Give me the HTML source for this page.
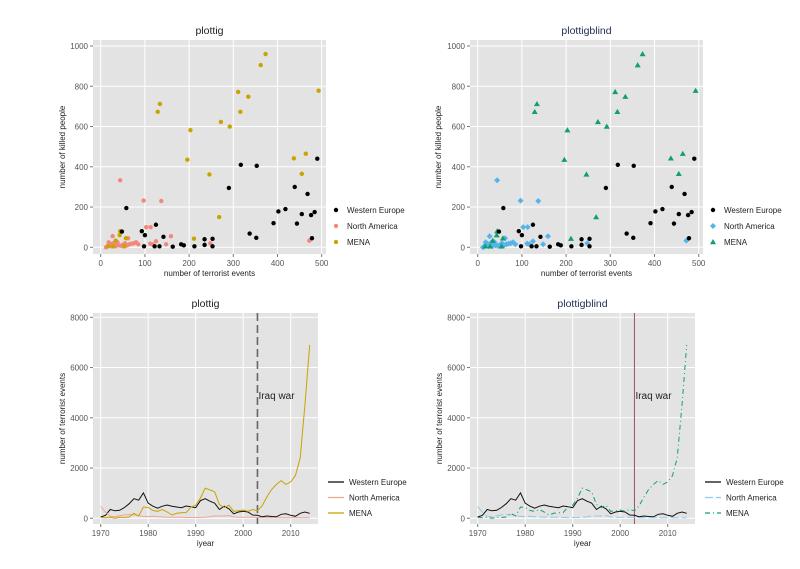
<!DOCTYPE html>
<html><head><meta charset="utf-8"><style>
body{margin:0;background:#fff;width:800px;height:564px;overflow:hidden;font-family:"Liberation Sans",sans-serif}
svg text{font-family:"Liberation Sans",sans-serif}
</style></head><body>
<svg id="chart" width="800" height="564"></svg>
<script>
const weX=[58,48,93,100,98,125,122,133,142,163,182,188,212,235,235,253,253,290,317,353,337,352,391,402,418,439,444,455,468,476,478,484,490];
const weY=[195,78,80,60,5,112,5,5,52,3,15,10,5,40,12,42,5,295,410,405,68,47,120,178,190,300,118,165,265,160,45,175,440];
const naX=[44,97,137,103,113,159,125,112,117,148,248,472,27,18,22,30,35,40,15,12,25,33,45,52,55,62,65,70,75,80,85,60,38,50];
const naY=[333,232,230,100,100,55,30,18,15,15,20,33,55,25,18,22,15,10,5,0,5,5,8,5,20,45,15,18,20,25,15,10,25,12];
const meX=[373,362,493,311,334,134,129,316,272,292,203,196,437,464,455,246,268,211,44,43,57,34,17,28,54];
const meY=[960,905,778,772,748,712,673,673,623,600,582,435,442,465,365,362,150,43,80,60,45,33,5,5,5];
const years=[];for(let y=1970;y<=2014;y++)years.push(y);
const weLine=[50,120,350,300,320,430,580,780,720,1010,600,480,400,480,530,480,450,420,490,460,420,700,780,680,600,350,480,380,180,250,280,250,130,120,60,90,70,60,160,180,120,80,200,250,200];
const naLine=[470,250,80,60,100,130,150,140,110,70,70,80,60,50,40,40,40,40,30,30,30,30,40,60,90,90,90,110,50,40,40,40,40,30,20,20,20,20,20,20,20,20,20,20,20];
const meLine=[30,20,40,0,40,30,50,200,90,450,430,310,280,350,250,130,200,220,230,450,520,800,1200,1130,1050,550,420,520,280,300,330,280,350,300,500,850,1150,1350,1500,1350,1450,1700,2400,4500,6900];
const scatTicksX=[0,100,200,300,400,500];const scatTicksY=[0,200,400,600,800,1000];
const lineTicksX=[1970,1980,1990,2000,2010];const lineTicksY=[0,2000,4000,6000,8000];
const legendLabels=["Western Europe","North America","MENA"];
const iraqYear=2003;

const NS="http://www.w3.org/2000/svg";const svg=document.getElementById('chart');
function mk(t,a,p){const e=document.createElementNS(NS,t);for(const k in a)e.setAttribute(k,a[k]);(p||svg).appendChild(e);return e;}
function txt(s,a,p){const e=mk('text',a,p);e.textContent=s;return e;}

function panel(o){
  const g=mk('g',{});
  
  
  const bg=mk('rect',{x:o.L,y:o.T,width:o.R-o.L,height:o.B-o.T,fill:'#e3e3e3'},g);
  
  
  const sx=v=>o.x0px+(v-o.x0)*(o.x1px-o.x0px)/(o.x1-o.x0);
  const sy=v=>o.y0px+(v-o.y0)*(o.y1px-o.y0px)/(o.y1-o.y0);
  o.tx.forEach(v=>{const x=sx(v);
    const gl=mk('line',{x1:x,x2:x,y1:o.T,y2:o.B,stroke:'#fff','stroke-width':1},g);
    
    
    mk('line',{x1:x,x2:x,y1:o.B,y2:o.B+3,stroke:'#777'},g);
    const t=txt(v,{x:x,y:o.B+12,'font-size':8,fill:'#555','text-anchor':'middle'},g);
    
    });
  o.ty.forEach(v=>{const y=sy(v);
    const gl=mk('line',{x1:o.L,x2:o.R,y1:y,y2:y,stroke:'#fff','stroke-width':1},g);
    
    
    mk('line',{x1:o.L-3,x2:o.L,y1:y,y2:y,stroke:'#777'},g);
    const t=txt(v,{x:o.L-5,y:y+3,'font-size':8,fill:'#555','text-anchor':'end'},g);
    
    });
  const ti=txt(o.title,{x:(o.L+o.R)/2,y:o.T-6,'font-size':10.5,fill:o.tcol,'text-anchor':'middle'},g);
  
  
  const xt=txt(o.xlab,{x:(o.L+o.R)/2,y:o.B+22,'font-size':8,fill:'#222','text-anchor':'middle'},g);
  
  
  const cy=(o.T+o.B)/2;
  const yt=txt(o.ylab,{x:o.ylx,y:cy,'font-size':8,fill:'#222','text-anchor':'middle',transform:`rotate(-90 ${o.ylx} ${cy})`},g);
  
  
  return {g,sx,sy};
}
function shape(g,kind,x,y,col){
  let e;
  if(kind==='c')e=mk('circle',{cx:x,cy:y,r:2.2,fill:col},g);
  else if(kind==='d')e=mk('polygon',{points:`${x},${y-3} ${x+3},${y} ${x},${y+3} ${x-3},${y}`,fill:col},g);
  else e=mk('polygon',{points:`${x},${y-3} ${x+3},${y+2.2} ${x-3},${y+2.2}`,fill:col},g);
  return e;
}
function scatter(off,name,title,tcol,cols,shapes,ylx){
  const p=panel({name,L:93+off,R:326+off,T:40,B:254,x0:0,x1:500,x0px:100.7+off,x1px:321.7+off,y0:0,y1:1000,y0px:247.3,y1px:46,
    tx:scatTicksX,ty:scatTicksY,title,tcol,xlab:'number of terrorist events',ylab:'number of killed people',ylx});
  const sets=[[weX,weY],[naX,naY],[meX,meY]];
  const order=[1,2,0];
  order.forEach(s=>{const [X,Y]=sets[s];X.forEach((v,i)=>{
    const e=shape(p.g,shapes[s],p.sx(v),p.sy(Y[i]),cols[s]);
    
    });});
  legendLabels.forEach((l,i)=>{const y=210+i*16;
    const lg=mk('g',{},p.g);
    
    
    shape(lg,shapes[i],336+off,y,cols[i]);
    txt(l,{x:347+off,y:y+3,'font-size':8,fill:'#222'},lg);});
}
function lines(off,name,title,tcol,cols,dashes,vcol,vdash,ylx){
  const p=panel({name,L:93+off,R:318+off,T:313,B:524,x0:1970,x1:2010,x0px:100.7+off,x1px:290.7+off,y0:0,y1:8000,y0px:518.3,y1px:317.3,
    tx:lineTicksX,ty:lineTicksY,title,tcol,xlab:'iyear',ylab:'number of terrorist events',ylx});
  const vx=p.sx(iraqYear);
  const vl=mk('line',{x1:vx,x2:vx,y1:313,y2:524,stroke:vcol,'stroke-width':vdash?1.6:1,'stroke-dasharray':vdash||'none'},p.g);
  
  
  const an=txt('Iraq war',{x:vx+1,y:p.sy(4900)+4,'font-size':10,fill:'#222'},p.g);
  
  
  const sets=[weLine,naLine,meLine];
  [0,1,2].forEach(s=>{
    const d=sets[s].map((v,i)=>(i?'L':'M')+p.sx(years[i]).toFixed(1)+','+p.sy(v).toFixed(1)).join('');
    const e=mk('path',{d,fill:'none',stroke:cols[s],'stroke-width':1,'stroke-dasharray':dashes[s]||'none'},p.g);
    
    });
  legendLabels.forEach((l,i)=>{const y=482+i*15.5;
    const lg=mk('g',{},p.g);
    
    
    mk('line',{x1:328+off,x2:344+off,y1:y,y2:y,stroke:cols[i],'stroke-width':1.3,'stroke-dasharray':dashes[i]||'none'},lg);
    txt(l,{x:349+off,y:y+3,'font-size':8,fill:'#222'},lg);});
}
scatter(0,'scatter-plottig','plottig','#222',['#000','#f4877c','#c9a400'],['c','c','c'],65);
scatter(377,'scatter-plottigblind','plottigblind','#1f2a55',['#000','#56b4e9','#109e74'],['c','d','t'],441);
lines(0,'line-plottig','plottig','#222',['#111','#f4a39a','#c9a400'],[null,null,null],'#666','8,4',65);
lines(377,'line-plottigblind','plottigblind','#1f2a55',['#111','#8fcbef','#109e74'],[null,'8,3','5,3,1,3'],'#a0505a',null,442);
</script>
</body></html>
